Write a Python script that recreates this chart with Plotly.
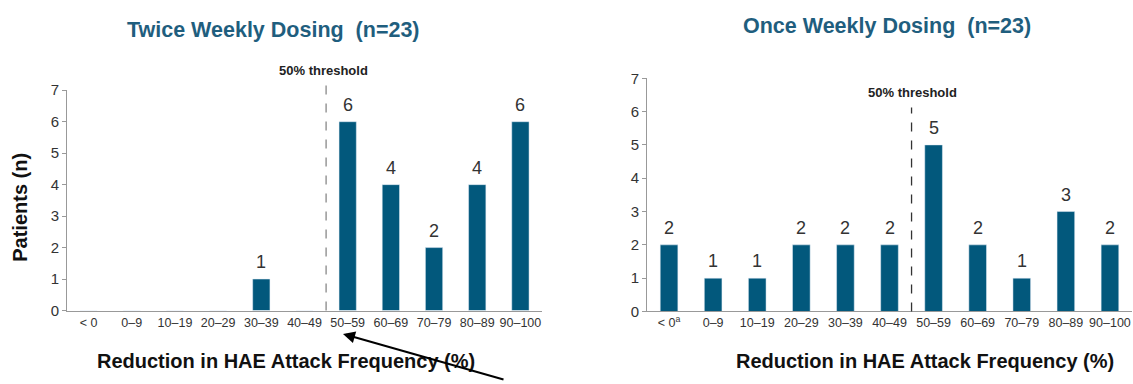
import plotly.graph_objects as go

categories_left = ["< 0", "0–9", "10–19", "20–29", "30–39", "40–49", "50–59", "60–69", "70–79", "80–89", "90–100"]
categories_right = ["< 0<sup>a</sup>", "0–9", "10–19", "20–29", "30–39", "40–49", "50–59", "60–69", "70–79", "80–89", "90–100"]
twice_weekly = [0, 0, 0, 0, 1, 0, 6, 4, 2, 4, 6]
once_weekly = [2, 1, 1, 2, 2, 2, 5, 2, 1, 3, 2]
y_ticks = [0, 1, 2, 3, 4, 5, 6, 7]

BAR = "#02587C"
TEAL = "#1F5E7E"
FONT = "Arial, Liberation Sans, sans-serif"
W, H = 1133, 384

fig = go.Figure()
fig.add_trace(go.Bar(x=categories_left, y=twice_weekly, marker_color=BAR, xaxis="x", yaxis="y",
                     showlegend=False))
fig.add_trace(go.Bar(x=categories_right, y=once_weekly, marker_color=BAR, xaxis="x2", yaxis="y2",
                     showlegend=False))

axis_common = dict(showgrid=False, zeroline=False, showline=True, linecolor="#999", linewidth=1)
xcommon = dict(axis_common, type="category", ticks="", tickfont=dict(size=12.5, color="#333", family=FONT),
               tickangle=0)
ycommon = dict(axis_common, range=[0, 7], tickvals=y_ticks, ticks="outside", ticklen=4, tickcolor="#999",
               tickfont=dict(size=15, color="#333", family=FONT))

fig.update_layout(
    width=W, height=H, margin=dict(l=0, r=0, t=0, b=0),
    paper_bgcolor="white", plot_bgcolor="white", bargap=0.6,
    font=dict(family=FONT),
    xaxis=dict(xcommon, domain=[67 / W, 542 / W], anchor="y"),
    yaxis=dict(ycommon, domain=[(H - 315.5) / H, (H - 85) / H], anchor="x"),
    xaxis2=dict(xcommon, domain=[647 / W, 1132 / W], anchor="y2"),
    yaxis2=dict(ycommon, domain=[(H - 316.5) / H, (H - 72.5) / H], anchor="x2"),
)

# threshold lines
fig.add_shape(type="line", xref="x", yref="paper", x0=5.5, x1=5.5, y0=(H - 315.5) / H, y1=(H - 75) / H,
              line=dict(color="#888", width=1.3, dash="dash"))
fig.add_shape(type="line", xref="x2", yref="paper", x0=5.5, x1=5.5, y0=(H - 316.5) / H, y1=(H - 103) / H,
              line=dict(color="#333", width=1.3, dash="dash"))


def txt(t, x, y, size, color, **kw):
    return dict(text=t, x=x / W, y=(H - y) / H, xref="paper", yref="paper", showarrow=False,
                xanchor="center", yanchor="middle", font=dict(size=size, color=color, family=FONT), **kw)


ann = [
    txt("<b>50% threshold</b>", 323, 64, 13, "#222"),
    txt("<b>50% threshold</b>", 912, 87, 13, "#222"),
    txt("<b>Twice Weekly Dosing  (n=23)</b>", 273, 22, 21.5, TEAL),
    txt("<b>Once Weekly Dosing  (n=23)</b>", 887, 18, 21.5, TEAL),
    txt("<b>Patients (n)</b>", 20, 208, 20, "#111", textangle=-90),
    txt("<b>Reduction in HAE Attack Frequency (%)</b>", 286, 368, 20, "#111"),
    txt("<b>Reduction in HAE Attack Frequency (%)</b>", 925, 368, 20, "#111"),
]

# value labels above bars (skip zeros)
for cats, vals, xr, yr in [(categories_left, twice_weekly, "x", "y"), (categories_right, once_weekly, "x2", "y2")]:
    for c, v in zip(cats, vals):
        if v:
            ann.append(dict(text=str(v), x=c, y=v, xref=xr, yref=yr, showarrow=False, xanchor="center",
                            yanchor="bottom", yshift=5, font=dict(size=18, color="#333", family=FONT)))

# pointer arrow
ann.append(dict(text="", x=343 / W, y=(H - 340) / H, xref="paper", yref="paper", showarrow=True,
                ax=162, ay=46, arrowhead=2, arrowsize=1.2, arrowwidth=2, arrowcolor="black"))
fig.update_layout(annotations=ann)

fig.write_html("out.html")
